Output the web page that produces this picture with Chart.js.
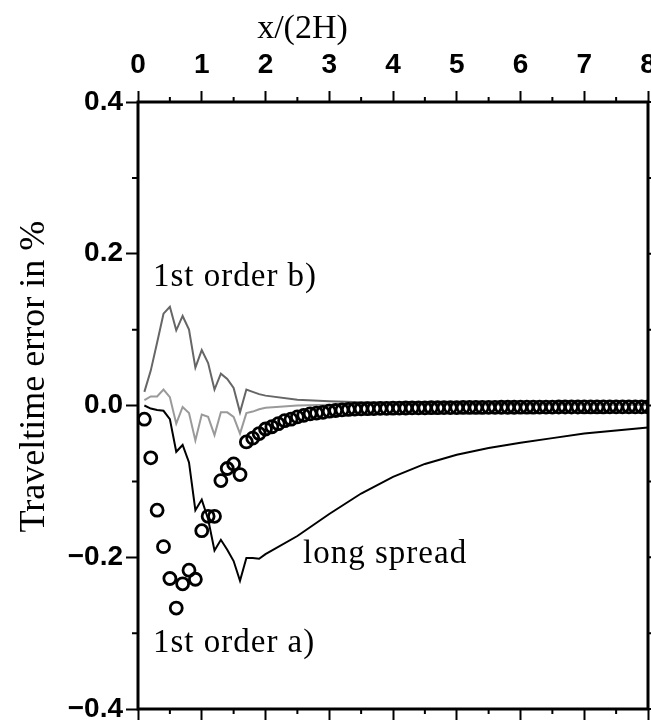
<!DOCTYPE html>
<html>
<head>
<meta charset="utf-8">
<script src="https://cdn.jsdelivr.net/npm/chart.js@4.4.1/dist/chart.umd.min.js"></script>
<style>
  html, body { margin: 0; padding: 0; background: #fff; }
</style>
</head>
<body>
<canvas id="chart" width="651" height="726"></canvas>
<script>
// x positions of the 1st order a) circles (x/(2H))
const circleX = [
  0.1, 0.2, 0.3, 0.4, 0.5, 0.6, 0.7, 0.8, 0.9, 1.0,
  1.1, 1.2, 1.3, 1.4, 1.5, 1.6, 1.7, 1.8, 1.9, 2.0,
  2.1, 2.2, 2.3, 2.4, 2.5, 2.6, 2.7, 2.8, 2.9, 3.0,
  3.1, 3.2, 3.3, 3.4, 3.5, 3.6, 3.7, 3.8, 3.9, 4.0,
  4.1, 4.2, 4.3, 4.4, 4.5, 4.6, 4.7, 4.8, 4.9, 5.0,
  5.1, 5.2, 5.3, 5.4, 5.5, 5.6, 5.7, 5.8, 5.9, 6.0,
  6.1, 6.2, 6.3, 6.4, 6.5, 6.6, 6.7, 6.8, 6.9, 7.0,
  7.1, 7.2, 7.3, 7.4, 7.5, 7.6, 7.7, 7.8, 7.9, 8.0
];
const circleY = [
  -0.018, -0.069, -0.138, -0.186, -0.228, -0.267, -0.235, -0.217, -0.229, -0.165,
  -0.146, -0.146, -0.099, -0.083, -0.077, -0.091, -0.048, -0.043, -0.037, -0.031,
  -0.028, -0.024, -0.020, -0.018, -0.015, -0.013, -0.011, -0.010, -0.009, -0.0075,
  -0.0066, -0.0058, -0.0052, -0.0047, -0.0044, -0.0042, -0.0040, -0.0038, -0.0037, -0.0035,
  -0.0034, -0.0033, -0.0032, -0.0031, -0.0030, -0.0029, -0.0029, -0.0028, -0.0027, -0.0027,
  -0.0026, -0.0026, -0.0025, -0.0025, -0.0024, -0.0024, -0.0023, -0.0023, -0.0023, -0.0022,
  -0.0022, -0.0022, -0.0021, -0.0021, -0.0021, -0.0020, -0.0020, -0.0020, -0.0020, -0.0019,
  -0.0019, -0.0019, -0.0019, -0.0018, -0.0018, -0.0018, -0.0018, -0.0018, -0.0017, -0.0017
];

// 1st order b) curves (two grey lines)
const orderBX = [
  0.1, 0.2, 0.3, 0.4, 0.5, 0.6, 0.7, 0.8, 0.9, 1.0,
  1.1, 1.2, 1.3, 1.4, 1.5, 1.6, 1.7, 1.8, 1.9, 2.0,
  2.5, 3.0, 3.5, 4.0, 5.0, 6.0, 7.0, 8.0
];
const orderBDark = [
  0.018, 0.046, 0.083, 0.121, 0.130, 0.099, 0.118, 0.100, 0.050, 0.073,
  0.056, 0.021, 0.042, 0.035, 0.023, -0.009, 0.021, 0.018, 0.015, 0.013,
  0.0075, 0.0057, 0.0044, 0.0035, 0.0025, 0.0020, 0.0015, 0.0012
];
const orderBLight = [
  0.007, 0.012, 0.012, 0.021, 0.011, -0.024, -0.002, -0.010, -0.046, -0.012,
  -0.015, -0.039, -0.009, -0.009, -0.015, -0.037, -0.010, -0.008, -0.005, -0.003,
  0.000, 0.001, 0.001, 0.001, 0.001, 0.001, 0.001, 0.001
];

// long spread curve
const longX = [
  0.1, 0.2, 0.3, 0.4, 0.5, 0.6, 0.7, 0.8, 0.9, 1.0,
  1.1, 1.2, 1.3, 1.4, 1.5, 1.6, 1.7, 1.8, 1.9, 2.0,
  2.5, 3.0, 3.5, 4.0, 4.5, 5.0, 5.5, 6.0, 6.5, 7.0, 7.5, 8.0
];
const longY = [
  0.000, -0.004, -0.006, -0.007, -0.018, -0.061, -0.052, -0.075, -0.138, -0.124,
  -0.150, -0.191, -0.177, -0.190, -0.205, -0.231, -0.201, -0.201, -0.202, -0.196,
  -0.172, -0.143, -0.116, -0.094, -0.077, -0.065, -0.056, -0.049, -0.043, -0.037, -0.033, -0.029
];

// tick labels
const xTicks = [0, 1, 2, 3, 4, 5, 6, 7, 8];
const yTicks = [0.4, 0.2, 0.0, -0.2, -0.4];

// text annotations, in data units
const notes = [
  { text: "1st order b)", x: 0.235, y: 0.157 },
  { text: "long spread", x: 2.59, y: -0.208 },
  { text: "1st order a)", x: 0.235, y: -0.325 }
];

const pairs = (xs, ys) => xs.map((x, i) => ({ x: x, y: ys[i] }));

const tickFont = { family: "Liberation Sans", size: 28, weight: "bold" };
const serif = "Liberation Serif";

//draws the frame, minor ticks, titles and notes
const decorPlugin = {
  id: "decor",
  afterDatasetsDraw(chart) {
    const ctx = chart.ctx;
    const a = chart.chartArea;
    const xs = chart.scales.x;
    const ys = chart.scales.y;
    ctx.save();
    ctx.strokeStyle = "#000";

    //minor ticks
    ctx.lineWidth = 2;
    ctx.beginPath();
    for (let v = 0.5; v < 8; v += 1) {
      const px = xs.getPixelForValue(v);
      ctx.moveTo(px, a.top); ctx.lineTo(px, a.top - 5);
      ctx.moveTo(px, a.bottom); ctx.lineTo(px, a.bottom + 5);
    }
    [-0.3, -0.1, 0.1, 0.3].forEach((v) => {
      const py = ys.getPixelForValue(v);
      ctx.moveTo(a.left, py); ctx.lineTo(a.left - 6, py);
      ctx.moveTo(a.right, py); ctx.lineTo(a.right + 6, py);
    });
    yTicks.forEach((v) => {
      const py = ys.getPixelForValue(v);
      ctx.moveTo(a.right, py); ctx.lineTo(a.right + 12, py);
    });
    ctx.stroke();

    //frame
    ctx.lineWidth = 3;
    ctx.strokeRect(a.left, a.top, a.right - a.left, a.bottom - a.top);

    //axis titles
    ctx.fillStyle = "#000";
    ctx.font = "34px '" + serif + "'";
    ctx.textAlign = "center";
    ctx.textBaseline = "alphabetic";
    ctx.fillText("x/(2H)", xs.getPixelForValue(2.58), 38);

    ctx.save();
    ctx.translate(44, ys.getPixelForValue(0.038));
    ctx.rotate(-Math.PI / 2);
    ctx.font = "36px '" + serif + "'";
    ctx.fillText("Traveltime error in %", 0, 0);
    ctx.restore();

    //notes
    ctx.font = "33px '" + serif + "'";
    ctx.textAlign = "left";
    ctx.letterSpacing = "1px";
    notes.forEach((n) => {
      ctx.fillText(n.text, xs.getPixelForValue(n.x), ys.getPixelForValue(n.y));
    });
    ctx.restore();
  }
};

new Chart(document.getElementById("chart"), {
  type: "scatter",
  data: {
    datasets: [
      {
        label: "long spread",
        data: pairs(longX, longY),
        showLine: true,
        borderColor: "#000",
        borderWidth: 2,
        pointRadius: 0,
        tension: 0
      },
      {
        label: "1st order a)",
        data: pairs(circleX, circleY),
        showLine: false,
        pointStyle: "circle",
        pointRadius: 6,
        pointBorderWidth: 2.8,
        borderColor: "#000",
        backgroundColor: "rgba(0,0,0,0)"
      },
      {
        label: "1st order b) light",
        data: pairs(orderBX, orderBLight),
        showLine: true,
        borderColor: "#9a9a9a",
        borderWidth: 2,
        pointRadius: 0,
        tension: 0
      },
      {
        label: "1st order b)",
        data: pairs(orderBX, orderBDark),
        showLine: true,
        borderColor: "#666666",
        borderWidth: 2,
        pointRadius: 0,
        tension: 0
      }
    ]
  },
  options: {
    responsive: false,
    animation: false,
    events: [],
    layout: { padding: { right: 3 }, autoPadding: false },
    plugins: {
      legend: { display: false },
      tooltip: { enabled: false }
    },
    scales: {
      x: {
        type: "linear",
        position: "top",
        min: 0,
        max: 8,
        afterBuildTicks: (s) => { s.ticks = xTicks.map((v) => ({ value: v })); },
        ticks: { font: tickFont, color: "#000", padding: 9, maxRotation: 0, autoSkip: false },
        grid: { drawOnChartArea: false, drawTicks: true, tickLength: 11, tickWidth: 2, tickColor: "#000" },
        border: { display: false },
        afterFit: (s) => { s.height = 102; s.paddingLeft = 0; s.paddingRight = 0; }
      },
      xb: {
        type: "linear",
        position: "bottom",
        min: 0,
        max: 8,
        afterBuildTicks: (s) => { s.ticks = xTicks.map((v) => ({ value: v })); },
        ticks: { display: false },
        grid: { drawOnChartArea: false, drawTicks: true, tickLength: 11, tickWidth: 2, tickColor: "#000" },
        border: { display: false },
        afterFit: (s) => { s.height = 17; s.paddingLeft = 0; s.paddingRight = 0; }
      },
      y: {
        type: "linear",
        position: "left",
        min: -0.4,
        max: 0.4,
        afterBuildTicks: (s) => { s.ticks = yTicks.map((v) => ({ value: v })); },
        ticks: {
          font: tickFont,
          color: "#000",
          padding: 3,
          autoSkip: false,
          callback: (v) => (v < 0 ? "\u2212" : "") + Math.abs(v).toFixed(1)
        },
        grid: { drawOnChartArea: false, drawTicks: true, tickLength: 12, tickWidth: 2, tickColor: "#000" },
        border: { display: false },
        afterFit: (s) => { s.width = 138; s.paddingTop = 0; s.paddingBottom = 0; }
      }
    }
  },
  plugins: [decorPlugin]
});
</script>
</body>
</html>
